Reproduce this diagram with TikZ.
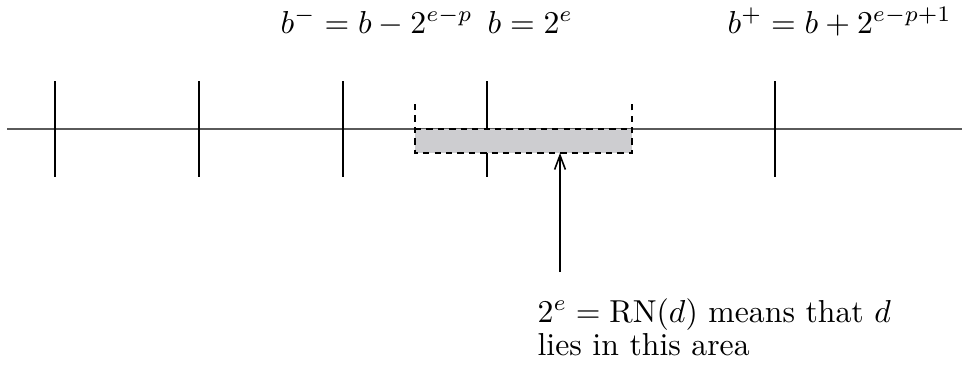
\documentclass[tikz,border=0pt]{standalone}
\usepackage{amsmath,amssymb}
\usepackage{xcolor}
\usetikzlibrary{arrows.meta}
\definecolor{areagray}{HTML}{CDCDD0}
\definecolor{axisgray}{HTML}{5A5A5A}
\tikzset{axis/.style={axisgray,line width=.5pt},
tick/.style={black,line width=.5pt},
bound/.style={black,line width=.5pt,dash pattern=on 2pt off 1.6pt},
ptr/.style={-{Straight Barb[length=4.5pt,width=3.4pt]},line width=.5pt},
lab/.style={anchor=base west,inner sep=0pt}}

\begin{document}
\begin{tikzpicture}[x=.315pt,y=-.315pt]
\useasboundingbox (0,0) rectangle (962,365);
\draw[axis] (7,129)--(962,129);
\foreach \t in {55,199,343,487,775} {\draw[tick] (\t,81)--(\t,177);}
\fill[areagray] (415,129) rectangle (632,153);
\draw[bound] (415,104)--(415,153)--(632,153)--(632,104);
\draw[bound] (415,129)--(632,129);
\node[lab] (bminus) at (280,33) {$b^-=b-2^{e-p}$};
\node[lab] (bval) at (487,33) {$b=2^e$};
\node[lab] (bplus) at (727,33) {$b^+=b+2^{e-p+1}$};
% base anchor sits on the last line
\node[lab,align=left,font={\fontsize{10}{10.4}\selectfont}] (note) at (537,355) {$2^e=\mathrm{RN}(d)$ means that $d$\\lies in this area};
\coordinate (tail) at (560,272);
\coordinate (area) at (560,153);
\draw[ptr] (tail)--(area);
\end{tikzpicture}
\end{document}
